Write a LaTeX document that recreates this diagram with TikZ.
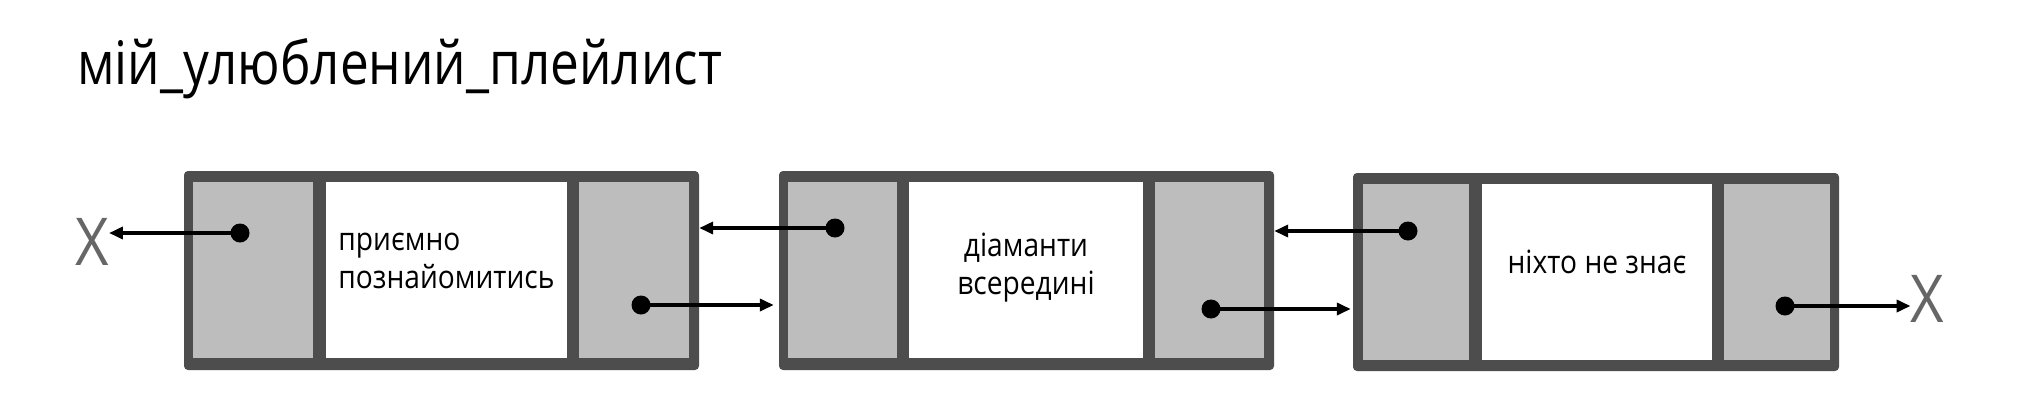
\documentclass[tikz,border=0pt]{standalone}
\usepackage{fontspec}
\setmainfont{Open Sans}[FakeStretch=0.88]
\newfontfamily\titlefont{Open Sans}[FakeStretch=0.855]
\usetikzlibrary{arrows.meta}
\definecolor{framegray}{HTML}{4D4D4D}
\definecolor{cellgray}{HTML}{BDBDBD}
\definecolor{xgray}{HTML}{666666}
\begin{document}
\begin{tikzpicture}[x=1pt,y=-1pt,
  outerbox/.style={rectangle, fill=framegray, rounded corners=4pt, inner sep=0pt, minimum height=199pt},
  cellg/.style={rectangle, fill=cellgray, inner sep=0pt, minimum height=176pt},
  cellw/.style={rectangle, fill=white, inner sep=0pt, minimum height=176pt},
  txt/.style={inner sep=0pt, font=\fontsize{32}{38}\selectfont},
  dotnode/.style={circle, fill=black, inner sep=0pt, minimum size=19pt},
  arr/.style={line width=4pt, -{Triangle[length=14pt,width=12pt]}},
  xmark/.style={inner sep=0pt, font=\fontsize{66}{66}\selectfont, text=xgray}]
\useasboundingbox (0,0) rectangle (2042,400);
\fill[white] (0,0) rectangle (2042,400);

\node[anchor=base west, inner sep=0pt, font=\titlefont\fontsize{60}{60}\selectfont] (title) at (77,84) {мій\_улюблений\_плейлист};

% box 1
\node[outerbox, minimum width=515pt] (b1) at (441.5,270.5) {};
\node[cellg, minimum width=120pt] (b1l) at (253,270) {};
\node[cellw, minimum width=241pt] (b1m) at (446.5,270) {};
\node[cellg, minimum width=110pt] (b1r) at (634,270) {};
\node[txt, align=left] (t1) at (446.5,261) {приємно\\познайомитись};

% box 2
\node[outerbox, minimum width=495pt] (b2) at (1026.5,270.5) {};
\node[cellg, minimum width=109pt] (b2l) at (842.5,270) {};
\node[cellw, minimum width=234pt] (b2m) at (1026,270) {};
\node[cellg, minimum width=109pt] (b2r) at (1209.5,270) {};
\node[txt, align=center] (t2) at (1026,268) {діаманти\\всередині};

% box 3
\node[outerbox, minimum width=486pt, minimum height=198pt] (b3) at (1596,272) {};
\node[cellg, minimum width=106pt] (b3l) at (1416,272) {};
\node[cellw, minimum width=230pt] (b3m) at (1597,272) {};
\node[cellg, minimum width=106pt] (b3r) at (1777,272) {};
\node[txt] (t3) at (1597,262) {ніхто не знає};

% X marks
\node[xmark] (xl) at (92,241.5) {X};
\node[xmark] (xr) at (1927.5,298.5) {X};

% dots
\node[dotnode] (d1a) at (240,233) {};
\node[dotnode] (d1b) at (641,305) {};
\node[dotnode] (d2a) at (835,228) {};
\node[dotnode] (d2b) at (1211,309) {};
\node[dotnode] (d3a) at (1408,231) {};
\node[dotnode] (d3b) at (1785,306) {};

% arrows
\draw[arr] (d1a.center) -- (d1a.center -| xl.east);
\draw[arr, shorten >=5pt] (d1b.center) -- (d1b.center -| b2.west);
\draw[arr] (d2a.center) -- (d2a.center -| b1.east);
\draw[arr, shorten >=2pt] (d2b.center) -- (d2b.center -| b3.west);
\draw[arr] (d3a.center) -- (d3a.center -| b2.east);
\draw[arr] (d3b.center) -- (d3b.center -| xr.west);
\end{tikzpicture}
\end{document}
